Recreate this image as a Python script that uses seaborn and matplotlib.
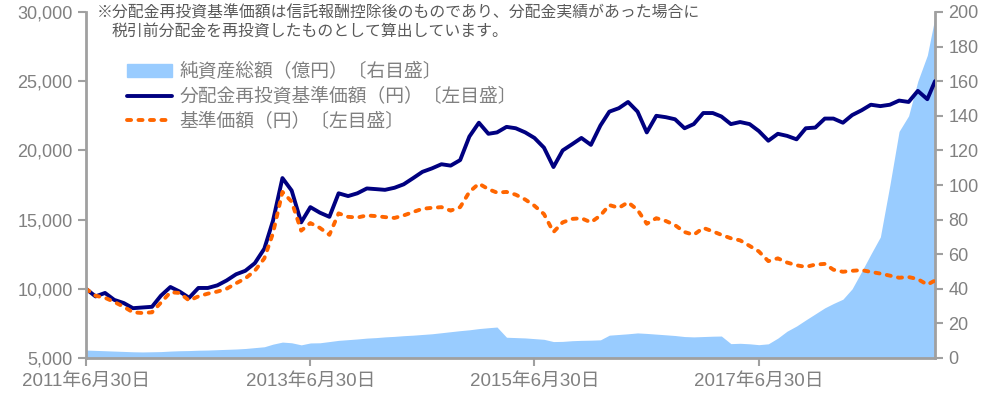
import seaborn as sns, matplotlib.pyplot as plt, pandas as pd
from matplotlib.ticker import FuncFormatter
from matplotlib.lines import Line2D
from matplotlib.patches import Patch

# month ends 2011/6 .. 2018/12, plus last day shown in Jan 2019
dates = list(pd.date_range("2011-06-30", "2018-12-31", freq="ME")) + [pd.Timestamp("2019-01-25")]

# 分配金再投資基準価額 (円)
reinvest = [10000, 9450, 9700, 9200, 8970, 8600, 8650, 8700, 9500, 10130, 9800, 9350,
            10060, 10060, 10250, 10600, 11050, 11300, 11850, 12900, 14900, 18000, 17100, 14800,
            15900, 15500, 15200, 16900, 16700, 16900, 17250, 17200, 17150, 17300, 17550, 18000,
            18450, 18700, 19000, 18900, 19300, 21000, 22000, 21200, 21300, 21700, 21600, 21300,
            20900, 20200, 18800, 20000, 20450, 20900, 20400, 21800, 22800, 23050, 23500, 22800,
            21300, 22500, 22400, 22250, 21600, 21900, 22700, 22700, 22450, 21900, 22050, 21900,
            21400, 20700, 21200, 21050, 20800, 21600, 21650, 22300, 22300, 22000, 22550, 22900,
            23300, 23200, 23300, 23600, 23500, 24300, 23700, 25000]
# 基準価額 (円)
nav = [10000, 9500, 9350, 9050, 8700, 8300, 8250, 8300, 9000, 9750, 9700, 9150,
       9450, 9650, 9800, 10000, 10400, 10750, 11300, 12200, 14000, 17000, 16300, 14200,
       14750, 14400, 13900, 15450, 15200, 15150, 15300, 15250, 15180, 15120, 15300, 15550,
       15780, 15850, 15900, 15650, 15900, 17000, 17600, 17200, 16950, 17000, 16800, 16450,
       16000, 15400, 14100, 14800, 15050, 15100, 14800, 15300, 16050, 15850, 16250, 15700,
       14700, 15100, 14900, 14600, 14100, 13900, 14400, 14150, 13900, 13650, 13500, 13100,
       12700, 12000, 12200, 11900, 11700, 11580, 11750, 11800, 11380, 11230, 11300, 11350,
       11220, 11100, 10950, 10800, 10850, 10700, 10300, 10600]
# 純資産総額 (億円)
assets = [4.6, 4.4, 4.2, 4.0, 3.8, 3.6, 3.5, 3.6, 3.7, 4.0, 4.2, 4.3,
          4.5, 4.6, 4.8, 5.0, 5.2, 5.5, 6.0, 6.5, 8.0, 9.2, 8.8, 7.6,
          8.7, 8.8, 9.5, 10.2, 10.6, 11.0, 11.5, 11.8, 12.2, 12.5, 12.9, 13.2,
          13.6, 14.0, 14.6, 15.2, 15.8, 16.3, 17.0, 17.5, 17.9, 12.0, 11.8, 11.6,
          11.2, 10.8, 9.5, 9.6, 10.0, 10.2, 10.3, 10.5, 13.2, 13.6, 14.0, 14.5,
          14.2, 13.8, 13.4, 13.0, 12.4, 12.2, 12.4, 12.6, 12.7, 8.3, 8.5, 8.2,
          7.7, 8.2, 11.5, 15.5, 18.5, 22.0, 25.5, 29.0, 31.5, 34.0, 40.0, 50.0,
          60.0, 70.0, 100.0, 131.0, 140.0, 160.0, 175.0, 197.0]

xtick_dates = ["2011-06-30", "2013-06-30", "2015-06-30", "2017-06-30"]
xtick_labels = ["2011年6月30日", "2013年6月30日", "2015年6月30日", "2017年6月30日"]
legend_labels = ["純資産総額（億円）〔右目盛〕", "分配金再投資基準価額（円）〔左目盛〕", "基準価額（円）〔左目盛〕"]
note = ["※分配金再投資基準価額は信託報酬控除後のものであり、分配金実績があった場合に",
        "税引前分配金を再投資したものとして算出しています。"]

df = pd.DataFrame({"date": dates, "reinvest": reinvest, "nav": nav, "assets": assets})

sns.set_style("white")
plt.rcParams['font.family'] = ['Liberation Sans', 'Noto Sans CJK JP', 'DejaVu Sans']

grey = "#808080"
c_area, c_navy, c_orange = "#99ccff", "#000080", "#ff6600"
dash = (0, (1.05, 1.9))

fig = plt.figure(figsize=(9.96, 3.98), dpi=100)
ax = fig.add_axes([86/996, 1-358/398, (935-86)/996, (358-12)/398])
ax2 = ax.twinx()
ax2.fill_between(df["date"], 0, df["assets"], color=c_area, lw=0)
ax.set_zorder(ax2.get_zorder()+1)
ax.patch.set_visible(False)

sns.lineplot(data=df, x="date", y="reinvest", color=c_navy, lw=2.8, ax=ax)
sns.lineplot(data=df, x="date", y="nav", color=c_orange, lw=2.8, linestyle=dash, dash_capstyle="round", ax=ax)

ax.set_xlim(pd.Timestamp("2011-06-30"), pd.Timestamp("2019-01-25"))
ax.set_ylim(5000, 30000)
ax2.set_ylim(0, 200)
ax.set_yticks(range(5000, 30001, 5000))
ax2.set_yticks(range(0, 201, 20))
ax.yaxis.set_major_formatter(FuncFormatter(lambda v, p: f"{v:,.0f}"))
ax.set_xticks(pd.to_datetime(xtick_dates))
ax.set_xticklabels(xtick_labels)
ax.set_xlabel("")
ax.set_ylabel("")

for a in (ax, ax2):
    a.tick_params(length=6, width=1.5, color="#a0a0a0", labelcolor=grey, labelsize=13)
    for s in a.spines.values():
        s.set_visible(False)
ax.tick_params(axis="x", pad=5, labelsize=13.5)
ax.spines["left"].set_visible(True)
ax.spines["bottom"].set_visible(True)
ax2.spines["right"].set_visible(True)
for s in (ax.spines["left"], ax.spines["bottom"], ax2.spines["right"]):
    s.set_color("#a0a0a0")
    s.set_linewidth(2)
ax.tick_params(axis="y", left=True)
ax.tick_params(axis="x", bottom=True)
ax2.tick_params(axis="y", right=True)

handles = [Patch(color=c_area),
           Line2D([], [], color=c_navy, lw=2.8),
           Line2D([], [], color=c_orange, lw=2.8, linestyle=dash, dash_capstyle="round")]
ax.legend(handles, legend_labels, loc="upper left", bbox_to_anchor=(127/996, 1-63/398),
          bbox_transform=fig.transFigure, frameon=False, fontsize=13.5, labelcolor=grey,
          borderpad=0, borderaxespad=0, handlelength=2.4, handletextpad=0.4, labelspacing=0.36)

fig.text(97/996, 1-5/398, note[0], fontsize=11.4, color="#595959", va="top")
fig.text(112/996, 1-24/398, note[1], fontsize=11.4, color="#595959", va="top")

fig.savefig("out.png", dpi=100)
